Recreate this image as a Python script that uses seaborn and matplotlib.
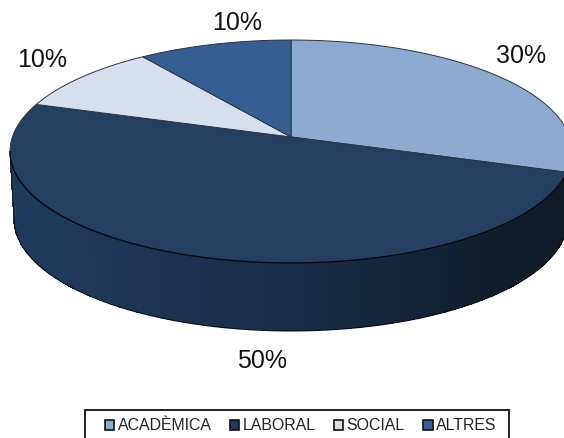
import numpy as np
import matplotlib
matplotlib.use("Agg")
import matplotlib.pyplot as plt
from matplotlib.colors import ListedColormap
from matplotlib.patches import Patch, Rectangle
import seaborn as sns

# data
categories = ["ACADÈMICA", "LABORAL", "SOCIAL", "ALTRES"]
shares = [30, 50, 10, 10]
colors = ["#8FAAD0", "#243F5F", "#D5DFED", "#355F93"]
legend_colors = ["#8FAAD0", "#1F3A5C", "#D5DFED", "#35609A"]

sns.set_theme(style="white")
plt.rcParams['font.family'] = ['Liberation Sans', 'DejaVu Sans']

# pie geometry in pixels
cx, cy = 291, 137
a, b, k = 278.6, 109.6, 0.13
depth = 68
shrink = 0.985


def project(t):
    # circle seen in perspective, t clockwise from the top
    w = 1 + k * np.cos(t)
    return cx + a * np.sin(t) / w, cy - b * np.cos(t) / w


fig = plt.figure(figsize=(5.64, 4.38), dpi=100)
ax = fig.add_axes([0, 0, 1, 1])
ax.set_xlim(0, 564)
ax.set_ylim(438, 0)
ax.axis("off")

# side wall between the two widest points, shaded left to right
edges = np.cumsum([0] + shares) / sum(shares) * 2 * np.pi
t0 = np.arccos(-k)
ts = np.linspace(t0, 2 * np.pi - t0, 300)
x, y = project(ts)
x_low = cx + (x - cx) * shrink
y_low = y + depth
wall = sns.blend_palette(["#0F1A26", "#111E2C", "#1A2D47", "#1F3858", "#1F3B5E"], 299)
ax.pcolormesh(np.vstack([x, x_low]), np.vstack([y, y_low]),
              np.arange(299)[None, :], cmap=ListedColormap(wall), shading="flat")
ax.plot(x_low, y_low, color="#0A1018", lw=0.8)
ax.plot(x, y, color="#05090F", lw=1.0)
ax.plot([x[-1], x_low[-1]], [y[-1], y_low[-1]], color="#0A1018", lw=0.6)

# top face
for start, end, col in zip(edges[:-1], edges[1:], colors):
    x, y = project(np.linspace(start, end, 120))
    ax.fill(np.r_[cx, x], np.r_[cy, y], facecolor=col, edgecolor="#2A3442", lw=0.7)

label_x = [521, 262, 42, 237]
label_y = [56, 361, 60, 23]
for share, lx, ly in zip(shares, label_x, label_y):
    ax.text(lx, ly, f"{share}%", fontsize=18, color="#111111", ha="center", va="center")

# frame runs off the bottom of the picture
ax.add_patch(Rectangle((85, 410), 424, 40, facecolor="white", edgecolor="#111111", lw=1.3))
handles = [Patch(facecolor=c, edgecolor="#111111", lw=1.2) for c in legend_colors]
ax.legend(handles, categories, ncol=4, loc="center", bbox_to_anchor=(300.5 / 564, 1 - 426 / 438),
          frameon=False, fontsize=11.45, handlelength=0.6, handleheight=0.6,
          handletextpad=0.2, columnspacing=1.15, labelcolor="#222222")

fig.savefig("out.png", dpi=100)
